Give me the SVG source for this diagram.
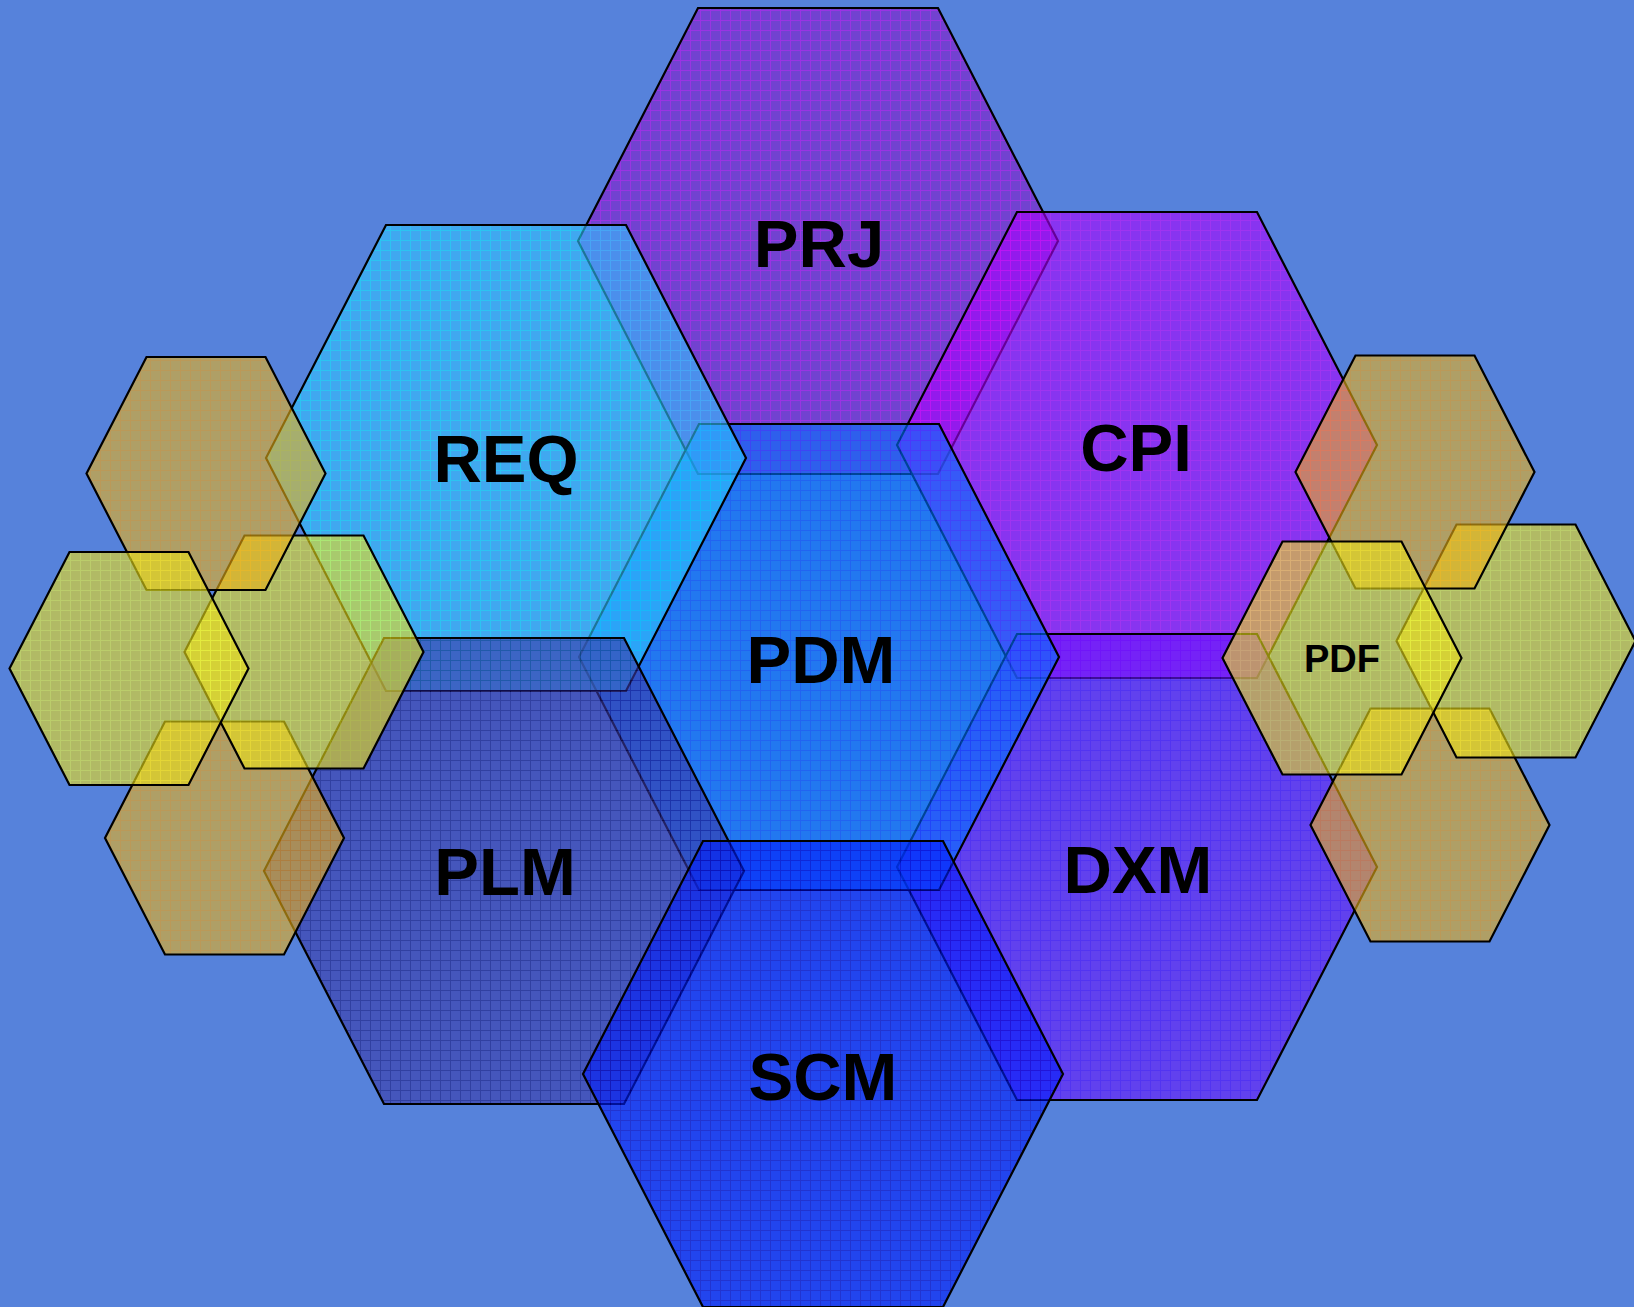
<svg xmlns="http://www.w3.org/2000/svg" width="1634" height="1307" viewBox="0 0 1634 1307">
<style>
.hx{stroke:#000;stroke-width:2.2;stroke-linejoin:miter;fill-opacity:0.6}
.lb{font-family:"Liberation Sans",Arial,sans-serif;font-weight:bold;font-size:67px;fill:#000;text-anchor:middle}
.lbs{font-family:"Liberation Sans",Arial,sans-serif;font-weight:bold;font-size:38px;fill:#000;text-anchor:middle}
</style>
<defs>
<pattern id="pPRJ" width="10" height="10" patternUnits="userSpaceOnUse"><rect width="10" height="10" fill="#8418C8"/><path d="M0.5 0V10M0 0.5H10" stroke="#C800E8" stroke-width="1"/></pattern>
<pattern id="pREQ" width="10" height="10" patternUnits="userSpaceOnUse"><rect width="10" height="10" fill="#31C2FE"/><path d="M0.5 0V10M0 0.5H10" stroke="#10F0FF" stroke-width="1"/></pattern>
<pattern id="pCPI" width="10" height="10" patternUnits="userSpaceOnUse"><rect width="10" height="10" fill="#A900FE"/><path d="M0.5 0V10M0 0.5H10" stroke="#D000FF" stroke-width="1"/></pattern>
<pattern id="pPDM" width="10" height="10" patternUnits="userSpaceOnUse"><rect width="10" height="10" fill="#0072FE"/><path d="M0.5 0V10M0 0.5H10" stroke="#0050FF" stroke-width="1"/></pattern>
<pattern id="pPLM" width="10" height="10" patternUnits="userSpaceOnUse"><rect width="10" height="10" fill="#3A39A8"/><path d="M0.5 0V10M0 0.5H10" stroke="#18147A" stroke-width="1"/></pattern>
<pattern id="pDXM" width="10" height="10" patternUnits="userSpaceOnUse"><rect width="10" height="10" fill="#6816FB"/><path d="M0.5 0V10M0 0.5H10" stroke="#5000FF" stroke-width="1"/></pattern>
<pattern id="pSCM" width="10" height="10" patternUnits="userSpaceOnUse"><rect width="10" height="10" fill="#001DFB"/><path d="M0.5 0V10M0 0.5H10" stroke="#0000C8" stroke-width="1"/></pattern>
<pattern id="pORG" width="10" height="10" patternUnits="userSpaceOnUse"><rect width="10" height="10" fill="#EAB218"/><path d="M0.5 0V10M0 0.5H10" stroke="#FFA800" stroke-width="1"/></pattern>
<pattern id="pYEL" width="10" height="10" patternUnits="userSpaceOnUse"><rect width="10" height="10" fill="#EDE016"/><path d="M0.5 0V10M0 0.5H10" stroke="#FFFF20" stroke-width="1"/></pattern>
</defs>
<rect width="1634" height="1307" fill="#5682DB"/>
<g id="connectors"/>
<g id="PRJ"><polygon class="hx" fill="url(#pPRJ)" points="698,8 938,8 1058,241 938,474 698,474 578,241"/><text class="lb" x="819" y="267">PRJ</text></g>
<g id="CPI"><polygon class="hx" fill="url(#pCPI)" points="1017,212 1257,212 1377,445 1257,678 1017,678 897,445"/><text class="lb" x="1136" y="471">CPI</text></g>
<g id="DXM"><polygon class="hx" fill="url(#pDXM)" points="1017,634 1257,634 1377,867 1257,1100 1017,1100 897,867"/><text class="lb" x="1138" y="893">DXM</text></g>
<g id="PDM"><polygon class="hx" fill="url(#pPDM)" points="699,424 939,424 1059,657 939,890 699,890 579,657"/><text class="lb" x="821" y="683">PDM</text></g>
<g id="REQ"><polygon class="hx" fill="url(#pREQ)" points="386,225 626,225 746,458 626,691 386,691 266,458"/><text class="lb" x="506" y="482">REQ</text></g>
<g id="PLM"><polygon class="hx" fill="url(#pPLM)" points="384,638 624,638 744,871 624,1104 384,1104 264,871"/><text class="lb" x="505" y="895">PLM</text></g>
<g id="SCM"><polygon class="hx" fill="url(#pSCM)" points="703,841 943,841 1063,1074 943,1307 703,1307 583,1074"/><text class="lb" x="823" y="1100">SCM</text></g>
<g id="small-orange-bottom-left"><polygon class="hx" fill="url(#pORG)" points="165,721.5 284,721.5 344,838 284,954.5 165,954.5 105,838"/></g>
<g id="small-yellow-middle-left"><polygon class="hx" fill="url(#pYEL)" points="244.5,535.5 363.5,535.5 423.5,652 363.5,768.5 244.5,768.5 184.5,652"/></g>
<g id="small-orange-top-left"><polygon class="hx" fill="url(#pORG)" points="146.5,357 265.5,357 325.5,473.5 265.5,590 146.5,590 86.5,473.5"/></g>
<g id="small-yellow-left"><polygon class="hx" fill="url(#pYEL)" points="69.5,552 188.5,552 248.5,668.5 188.5,785 69.5,785 9.5,668.5"/></g>
<g id="small-orange-bottom-right"><polygon class="hx" fill="url(#pORG)" points="1370.5,708.5 1489.5,708.5 1549.5,825 1489.5,941.5 1370.5,941.5 1310.5,825"/></g>
<g id="small-yellow-right"><polygon class="hx" fill="url(#pYEL)" points="1456.5,524.5 1575.5,524.5 1635.5,641 1575.5,757.5 1456.5,757.5 1396.5,641"/></g>
<g id="small-orange-top-right"><polygon class="hx" fill="url(#pORG)" points="1355.5,355.5 1474.5,355.5 1534.5,472 1474.5,588.5 1355.5,588.5 1295.5,472"/></g>
<g id="PDF"><polygon class="hx" fill="url(#pYEL)" points="1282.5,541.5 1401.5,541.5 1461.5,658 1401.5,774.5 1282.5,774.5 1222.5,658"/><text class="lbs" x="1342" y="672">PDF</text></g>
</svg>
